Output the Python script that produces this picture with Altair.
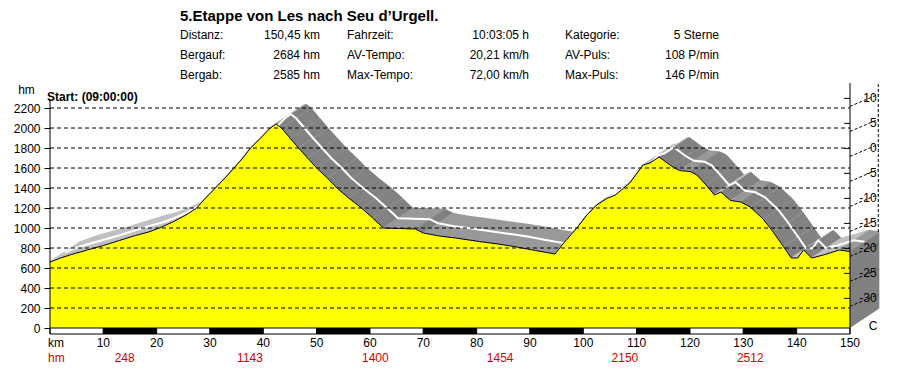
import altair as alt
import pandas as pd
import numpy as np

# ---------------- data ----------------
km = [0, 2, 4, 7, 10, 13, 16, 18.5, 20.5, 23, 25.5, 27.5, 29, 31, 33, 34.5, 36, 37.6, 39.5, 41.3,
      42.4, 43.4, 45, 46.6, 48.3, 50, 52, 53.8, 56, 58.4, 60.5, 62.5, 65.5, 68.5, 70, 73, 76, 80.5,
      84, 87, 91, 94.7, 96.3, 98.8, 100.5, 102.5, 104.4, 106, 108.7, 111.2, 112.5, 114.2, 116.5,
      118, 120, 121.3, 123, 124.6, 125.8, 127.6, 129.5, 131.3, 133.7, 135.6, 137.5, 139, 140.2,
      141.3, 142.8, 145, 148, 150]
hm = [660, 700, 735, 780, 825, 875, 925, 960, 1000, 1060, 1130, 1200, 1290, 1400, 1510, 1600, 1690,
      1800, 1900, 2000, 2040, 2000, 1900, 1800, 1700, 1600, 1500, 1400, 1300, 1200, 1100, 1000, 995,
      990, 950, 920, 900, 865, 840, 815, 775, 740, 850, 1000, 1120, 1230, 1295, 1330, 1450, 1630,
      1650, 1710, 1620, 1575, 1565, 1530, 1430, 1330, 1360, 1275, 1260, 1210, 1090, 960, 815, 700,
      700, 780, 700, 730, 780, 765]

hm_ticks = [0, 200, 400, 600, 800, 1000, 1200, 1400, 1600, 1800, 2000, 2200]
km_ticks = [10, 20, 30, 40, 50, 60, 70, 80, 90, 100, 110, 120, 130, 140, 150]
temp_ticks = [10, 5, 0, -5, -10, -15, -20, -25, -30]

climb_km = [14, 37.5, 61, 84.4, 107.8, 131.3]
climb_hm = ["248", "1143", "1400", "1454", "2150", "2512"]

title_text = "5.Etappe von Les nach Seu d\u2019Urgell."
col1_labels = ["Distanz:", "Bergauf:", "Bergab:"]
col1_values = ["150,45 km", "2684 hm", "2585 hm"]
col2_labels = ["Fahrzeit:", "AV-Tempo:", "Max-Tempo:"]
col2_values = ["10:03:05 h", "20,21 km/h", "72,00 km/h"]
col3_labels = ["Kategorie:", "AV-Puls:", "Max-Puls:"]
col3_values = ["5 Sterne", "108 P/min", "146 P/min"]
start_text = "Start: (09:00:00)"

# ---------------- style / geometry ----------------
FONT = "Liberation Sans"
DK, DH = 5.5, 195          # 3D depth offset (km, hm)
XS = alt.Scale(domain=[0, 156], nice=False, zero=False)
YS = alt.Scale(domain=[-60, 2450], nice=False, zero=False)
TS = alt.Scale(domain=[-37.12, 13.08], nice=False, zero=False)

def X(f):
    return alt.X(f, type="quantitative", scale=XS, axis=None)

def Y(f):
    return alt.Y(f, type="quantitative", scale=YS, axis=None)

prof = pd.DataFrame({"km": km, "hm": hm})

# extruded ribbon built from profile segments
rows = []
for i in range(len(km) - 1):
    s = (hm[i + 1] - hm[i]) / (km[i + 1] - km[i])
    if s <= -25:
        c = "#808080"
    elif s < 0:
        c = "#999999"
    else:
        c = "#c0c0c0"
    for t in np.linspace(0, 1, 30):
        rows.append({"a": km[i] + t * DK, "b": km[i + 1] + t * DK,
                     "ya": hm[i] + t * DH, "yb": hm[i + 1] + t * DH, "c": c})
ribbon_df = pd.DataFrame(rows)

ribbon = alt.Chart(ribbon_df).mark_rule(strokeWidth=1.7).encode(
    x=X("a"), x2="b", y=Y("ya"), y2="yb", color=alt.Color("c:N", scale=None))

mid_df = pd.DataFrame({"k": [k + DK / 2 for k in km], "h": [h + DH / 2 for h in hm]})
midline = alt.Chart(mid_df).mark_line(color="white", strokeWidth=2).encode(x=X("k"), y=Y("h"))

side_df = pd.DataFrame({"k": [km[-1], km[-1] + DK], "lo": [0, DH], "hi": [hm[-1], hm[-1] + DH]})
side = alt.Chart(side_df).mark_area(color="#808080", opacity=1).encode(x=X("k"), y=Y("hi"), y2="lo")

prof["zero"] = 0
yellow = alt.Chart(prof).mark_area(color="#ffff00", fill="#ffff00", opacity=1, fillOpacity=1,
                                   line={"color": "black", "strokeWidth": 1}).encode(
    x=X("km"),
    y=alt.Y("hm:Q", scale=YS, axis=alt.Axis(values=hm_ticks, format="d", domain=False, tickSize=6,
                                            tickColor="black", grid=False, title=None, labelFont=FONT,
                                            labelFontSize=12, labelColor="black", labelPadding=4)),
    y2="zero")

grid_df = pd.DataFrame({"h": hm_ticks[1:], "x0": 0, "x1": 150})
grid = alt.Chart(grid_df).mark_rule(color="black", strokeWidth=1, strokeDash=[4, 3]).encode(
    x=X("x0"), x2="x1", y=Y("h"))

bar_df = pd.DataFrame({"s": [k - 10 for k in km_ticks], "e": km_ticks})
bar_df["c"] = ["white" if i % 2 == 0 else "black" for i in range(len(bar_df))]
bar_df["y0"] = -60
bar_df["y1"] = 0
scalebar = alt.Chart(bar_df).mark_rect(stroke="black", strokeWidth=1).encode(
    x=X("s"), x2="e", y=Y("y0"), y2="y1", color=alt.Color("c:N", scale=None))

axes_df = pd.DataFrame({"x": [0, 150], "y0": [-60, -60], "y1": [2280, 2450]})
axlines = alt.Chart(axes_df).mark_rule(color="black", strokeWidth=1).encode(x=X("x"), y=Y("y0"), y2="y1")

back_df = pd.DataFrame({"x": [155.3], "y0": [hm[-1] + DH], "y1": [2450]})
backline = alt.Chart(back_df).mark_rule(color="black", strokeWidth=1, strokeDash=[3, 2]).encode(
    x=X("x"), y=Y("y0"), y2="y1")

# temperature back-wall axis
temp_df = pd.DataFrame({"T": temp_ticks})
temp_df["lab"] = [str(t) for t in temp_ticks]
temp_df["lo"] = temp_df["T"] - 1.6
temp_df["hi"] = temp_df["T"] + 0.8
temp_df["x0"] = 150
temp_df["x1"] = 155.3
temp_df["xt"] = 148.9
temp_df["xl"] = 155.0
TY = lambda f: alt.Y(f, type="quantitative", scale=TS, axis=None)
tdiag = alt.Chart(temp_df).mark_rule(color="black", strokeWidth=1, strokeDash=[3, 2]).encode(
    x=X("x0"), x2="x1", y=TY("lo"), y2="hi")
ttick = alt.Chart(temp_df).mark_rule(color="black", strokeWidth=1).encode(
    x=X("xt"), x2="x0", y=TY("T"))
tlab = alt.Chart(temp_df).mark_text(font=FONT, fontSize=12, align="right", baseline="middle",
                                     color="black").encode(x=X("xl"), y=TY("T"), text="lab:N")

# km labels
kmlab_df = pd.DataFrame({"k": km_ticks, "t": [str(k) for k in km_ticks]})
kmlab = alt.Chart(kmlab_df).mark_text(font=FONT, fontSize=12, color="black", baseline="middle",
                                      align="center").encode(x=X("k"), y=alt.value(259.5), text="t:N")

climb_df = pd.DataFrame({"k": climb_km, "t": climb_hm})
climb = alt.Chart(climb_df).mark_text(font=FONT, fontSize=12, color="#d00000", baseline="middle",
                                      align="center").encode(x=X("k"), y=alt.value(274.5), text="t:N")

one = pd.DataFrame({"d": [0]})

def txt(s, x, y, align="left", size=12, bold=False, color="black"):
    return alt.Chart(one).mark_text(text=s, font=FONT, fontSize=size, align=align, baseline="middle",
                                    fontWeight="bold" if bold else "normal", color=color).encode(
        x=alt.value(x), y=alt.value(y))

texts = [txt(title_text, 130, -67.5, size=15, bold=True)]
rows_y = [-48, -28, -8]
for i in range(3):
    texts += [txt(col1_labels[i], 130, rows_y[i]), txt(col1_values[i], 270, rows_y[i], align="right"),
              txt(col2_labels[i], 297, rows_y[i]), txt(col2_values[i], 479, rows_y[i], align="right"),
              txt(col3_labels[i], 515, rows_y[i]), txt(col3_values[i], 669, rows_y[i], align="right")]
texts += [txt("hm", -23.5, 7, align="center"), txt(start_text, -3, 14, bold=True),
          txt("km", -2, 259.5), txt("hm", -2, 274.5, color="#d00000"), txt("C", 823, 243, align="center")]

chart = alt.layer(ribbon, midline, side, yellow, grid, scalebar, axlines, backline,
                  tdiag, ttick, tlab, kmlab, climb, *texts).resolve_scale(y="independent").properties(
    width=832, height=251,
    padding={"left": 42, "top": 75, "right": 10, "bottom": 30},
    autosize=alt.AutoSizeParams(type="none"),
    background="white",
).configure_view(stroke=None)

chart.save("out.html", embed_options={"renderer": "svg", "actions": False})
